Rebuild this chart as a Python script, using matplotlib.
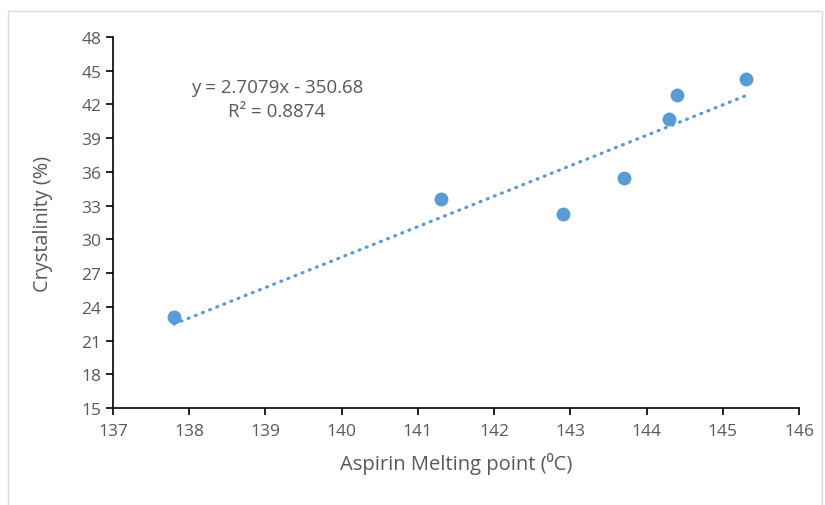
import numpy as np
import matplotlib
matplotlib.use('Agg')
from matplotlib import pyplot as plt
from matplotlib.patches import Rectangle

plt.rcParams['font.family'] = ['Open Sans', 'DejaVu Sans']

melting_point = [137.8, 141.3, 142.9, 143.7, 144.3, 144.4, 145.3]
crystallinity = [23.1, 33.6, 32.3, 35.5, 40.7, 42.8, 44.3]
x_ticks = [137, 138, 139, 140, 141, 142, 143, 144, 145, 146]
y_ticks = [15, 18, 21, 24, 27, 30, 33, 36, 39, 42, 45, 48]

grey = '#595959'
blue = '#5B9BD5'

fig = plt.figure(figsize=(8.25, 5.06), dpi=100)
fig.patches.append(Rectangle((8/825, -0.01), 814/825, 1 - 12/506 + 0.01,
                             transform=fig.transFigure, fill=False,
                             edgecolor='#d9d9d9', linewidth=1))
ax = fig.add_axes([113/825, 1 - 409/506, 686/825, 371/506])

# linear trendline
slope, intercept = np.polyfit(melting_point, crystallinity, 1)
xs = np.array([min(melting_point), max(melting_point)])
ax.plot(xs, slope * xs + intercept, color=blue, linewidth=2.3,
        linestyle=(0, (0.3, 2.1)), dash_capstyle='round', zorder=2)

ax.scatter(melting_point, crystallinity, s=100, color=blue, zorder=3, linewidths=0)

ax.text(139.15, 43.55, 'y = 2.7079x - 350.68', ha='center', va='center', fontsize=13.5, color=grey)
ax.text(139.15, 41.4, 'R² = 0.8874', ha='center', va='center', fontsize=13.5, color=grey)

ax.set_xlim(137, 146)
ax.set_ylim(15, 48)
ax.set_xticks(x_ticks)
ax.set_yticks(y_ticks)
ax.tick_params(direction='out', length=5, width=1.2, colors='black',
               labelcolor=grey, labelsize=12.5)
ax.tick_params(axis='x', pad=6)
for s in ['top', 'right']:
    ax.spines[s].set_visible(False)
for s in ['left', 'bottom']:
    ax.spines[s].set_linewidth(1.2)

ax.set_xlabel('Aspirin Melting point (⁰C)', fontsize=14.5, color=grey, labelpad=9)
ax.set_ylabel('Crystalinity (%)', fontsize=14.3, color=grey, labelpad=20)

fig.savefig('out.png', dpi=100)
